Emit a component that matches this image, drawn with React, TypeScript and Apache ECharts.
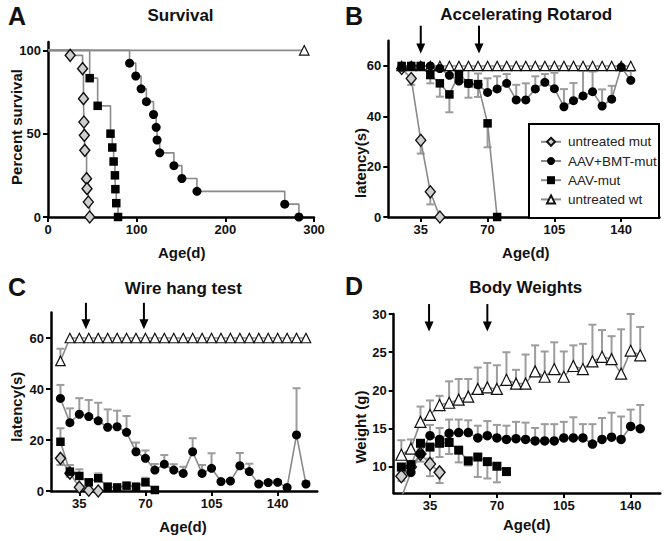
import React, { useEffect, useRef } from 'react';
import * as echarts from 'echarts';

// ---------- Panel A: Survival (Kaplan-Meier steps) ----------
const survUntDays = [0, 25, 39, 40, 40.5, 41, 41.5, 43.5, 44, 45.5, 47];
const survUnt = [100, 97, 89, 71, 57, 49, 40, 23, 17, 9, 0];
const survBmtDays = [0, 92, 99, 105, 111, 119, 122, 123, 126, 142, 151, 168, 267, 283];
const survBmt = [100, 92.3, 84.6, 76.9, 69.2, 61.5, 53.8, 46.2, 38.5, 30.8, 23.1, 15.4, 7.7, 0];
const survAavDays = [0, 47, 56, 70.5, 72.5, 74, 75.5, 76, 77, 79];
const survAav = [100, 83.3, 66.7, 50, 41.7, 33.3, 25, 16.7, 8.3, 0];
const survWtDays = [0, 289];
const survWt = [100, 100];

// ---------- Panel B: Accelerating Rotarod ----------
const rotaDays = [25, 30, 35, 40, 45, 50, 55, 60, 65, 70, 75, 80, 85, 90, 95, 100, 105, 110, 115, 120, 125, 130, 135, 140, 145];
const rotaWt = [60, 60, 60, 60, 60, 60, 60, 60, 60, 60, 60, 60, 60, 60, 60, 60, 60, 60, 60, 60, 60, 60, 60, 60, 60];
const rotaBmt = [59.5, 60, 60, 60, 59, 56.3, 54, 53, 52.5, 49.5, 50.9, 53.1, 46.5, 46.5, 50.9, 53.5, 51, 43.8, 46.2, 48.1, 49.8, 44.1, 46.8, 59.5, 54.3];
const rotaBmtErr = [0, 0, 0, 0, 1, 2, 3, 5.4, 4.5, 5.6, 5, 3.7, 6, 6.6, 5, 3.3, 6.3, 7, 7, 10, 8, 6.6, 5.3, 0, 3.7];
const rotaAavDays = [25, 30, 35, 40, 45, 50, 55, 60, 65, 70, 75];
const rotaAav = [60, 60, 60, 56.4, 53.1, 48.7, 56.8, 53.1, 52.8, 37.2, 0];
const rotaAavErr = [0, 0, 0, 3.3, 5.3, 7.1, 2, 5.7, 5.1, 9.5, 0];
const rotaUntDays = [25, 30, 35, 40, 45];
const rotaUnt = [59, 55, 30.5, 10, 0];
const rotaUntErr = [0, 2.5, 5.3, 5, 0];

// ---------- Panel C: Wire hang test ----------
const wireDays = [25, 30, 35, 40, 45, 50, 55, 60, 65, 70, 75, 80, 85, 90, 95, 100, 105, 110, 115, 120, 125, 130, 135, 140, 145, 150, 155];
const wireWt = [51, 60, 60, 60, 60, 60, 60, 60, 60, 60, 60, 60, 60, 60, 60, 60, 60, 60, 60, 60, 60, 60, 60, 60, 60, 60, 60];
const wireWtErr = [4.8, 0, 0, 0, 0, 0, 0, 0, 0, 0, 0, 0, 0, 0, 0, 0, 0, 0, 0, 0, 0, 0, 0, 0, 0, 0, 0];
const wireBmt = [36.3, 26.8, 30.1, 29.2, 27.5, 25, 25.2, 23, 15.4, 12.8, 8.2, 10.5, 8.2, 6.9, 15.4, 6.9, 8.9, 3.7, 3.9, 9.9, 7.6, 2.7, 3.3, 3.4, 1.4, 22, 2.7];
const wireBmtErr = [5.3, 5.6, 6.3, 6.5, 7.1, 7, 6.3, 6.4, 3.6, 3.1, 2.4, 3.6, 2.3, 2.6, 5.3, 3.3, 5.9, 0.6, 0.6, 5, 3.1, 0.8, 0.8, 0.8, 0.3, 18.3, 1.2];
const wireAavDays = [25, 30, 35, 40, 45, 50, 55, 60, 65, 70, 75];
const wireAav = [19.3, 7.6, 5.9, 3.4, 5, 1.7, 1.4, 2.1, 1.7, 3.4, 0.4];
const wireAavErr = [5.3, 2.6, 2.6, 1, 1.9, 0.5, 0.5, 0.5, 0.5, 1.8, 0];
const wireUntDays = [25, 30, 35, 40, 45];
const wireUnt = [12.8, 7, 1.5, 0.3, 0];
const wireUntErr = [2.6, 1.5, 0, 0, 0];

// ---------- Panel D: Body Weights ----------
const bwDays = [20, 25, 30, 35, 40, 45, 50, 55, 60, 65, 70, 75, 80, 85, 90, 95, 100, 105, 110, 115, 120, 125, 130, 135, 140, 145];
const bwWt = [11.6, 12.4, 15.9, 16.8, 18.1, 18.4, 18.8, 19.2, 20.2, 20.4, 20.2, 21.4, 20.9, 20.9, 22.5, 21.8, 22.8, 21.8, 23.2, 22.8, 23.8, 24.4, 24.1, 22.2, 25.2, 24.6];
const bwWtErr = [1.9, 1.2, 2, 1.9, 1.2, 2.8, 2.7, 2.3, 2.8, 3.2, 3.1, 3.6, 1.8, 3.8, 3.4, 3.3, 3.5, 3.3, 2.7, 3.3, 4.8, 3.5, 3.0, 5.8, 4.8, 3.7];
const bwBmt = [6.0, 9.3, 11.7, 14.1, 13.6, 14.4, 14.5, 14.5, 13.8, 14.1, 13.8, 13.6, 13.7, 13.6, 13.4, 13.4, 13.4, 13.8, 13.8, 13.8, 13.0, 13.6, 13.9, 13.6, 15.3, 15.0];
const bwBmtErr = [0, 1.5, 1.5, 1.4, 1.5, 1.8, 1.7, 1.6, 1.6, 1.9, 1.7, 1.8, 2.2, 2.2, 1.7, 2.2, 2.2, 2.1, 2.7, 1.8, 2.6, 2.8, 3.2, 3.0, 2.2, 3.1];
const bwAavDays = [20, 25, 30, 35, 40, 45, 50, 55, 60, 65, 70, 75];
const bwAav = [10.0, 10.3, 13.1, 12.6, 13.1, 13.2, 12.2, 10.8, 11.3, 10.7, 10.1, 9.4];
const bwAavErr = [0.5, 0.8, 1.5, 1.5, 1.8, 1.5, 1.6, 0.6, 2.6, 2.2, 2.1, 0];
const bwUntDays = [20, 25, 30, 35, 40];
const bwUnt = [8.8, 10.0, 11.7, 10.4, 9.3];
const bwUntErr = [0.6, 0.8, 1, 1.6, 1.4];

// ---------- Axis ticks ----------
const xTicksA = [0, 100, 200, 300];
const yTicksA = [0, 50, 100];
const xTicksBCD = [35, 70, 105, 140];
const yTicksBC = [0, 20, 40, 60];
const yTicksD = [10, 15, 20, 25, 30];

// ---------- Arrows (treatment times) ----------
const arrowDaysB = [35, 65.5];
const arrowSpanB = [76, 65];
const arrowDaysC = [38.5, 69.2];
const arrowSpanC = [73.8, 63.4];
const arrowDaysD = [34.5, 65];
const arrowSpanD = [31.3, 27.7];

const legendNames = ['untreated mut', 'AAV+BMT-mut', 'AAV-mut', 'untreated wt'];

const FONT = "'Liberation Sans', Arial, Helvetica, sans-serif";
const LINE_GRAY = '#8a8a8a';
const ERR_GRAY = '#9c9c9c';

const MARK: Record<string, any> = {
  unt: { symbol: 'diamond', symbolSize: [10, 12], itemStyle: { color: '#cfcfcf', borderColor: '#111', borderWidth: 1.4 } },
  bmt: { symbol: 'circle', symbolSize: 9, itemStyle: { color: '#000' } },
  aav: { symbol: 'rect', symbolSize: 8.5, itemStyle: { color: '#000' } },
  wt: { symbol: 'triangle', symbolSize: 9.5, itemStyle: { color: '#fff', borderColor: '#111', borderWidth: 1.2 } },
};
const MARK_D: Record<string, any> = {
  unt: { symbolSize: [11, 13] },
  bmt: { symbolSize: 9.5 },
  aav: { symbolSize: 9 },
  wt: { symbolSize: 11 },
};

function lineSeries(name: string, g: number, kind: string, xs: number[], ys: number[], extra: any = {}) {
  return {
    type: 'line',
    name,
    xAxisIndex: g,
    yAxisIndex: g,
    data: xs.map((x, i) => [x, ys[i]]),
    ...MARK[kind],
    showAllSymbol: true,
    lineStyle: { color: LINE_GRAY, width: 1.6 },
    z: 3,
    ...extra,
  };
}

function stepSeries(name: string, kind: string, xs: number[], ys: number[]) {
  return {
    type: 'line',
    name,
    xAxisIndex: 0,
    yAxisIndex: 0,
    step: 'end',
    data: xs.map((x, i) => (i === 0 ? { value: [x, ys[i]], symbol: 'none' } : [x, ys[i]])),
    ...MARK[kind],
    lineStyle: { color: LINE_GRAY, width: 1.6 },
    z: 3,
  };
}

function errSeries(g: number, xs: number[], ys: number[], errs: number[], dir: number) {
  return {
    type: 'custom',
    xAxisIndex: g,
    yAxisIndex: g,
    silent: true,
    z: 2,
    encode: { x: 0, y: 1 },
    data: xs.map((x, i) => [x, ys[i], errs[i] * dir]).filter((d) => d[2] !== 0),
    renderItem: (_p: any, api: any) => {
      const x = api.value(0);
      const y = api.value(1);
      const e = api.value(2);
      const p0 = api.coord([x, y]);
      const p1 = api.coord([x, y + e]);
      const st = { stroke: ERR_GRAY, lineWidth: 2 };
      return {
        type: 'group',
        children: [
          { type: 'line', shape: { x1: p0[0], y1: p0[1], x2: p1[0], y2: p1[1] }, style: st },
          { type: 'line', shape: { x1: p1[0] - 4, y1: p1[1], x2: p1[0] + 4, y2: p1[1] }, style: st },
        ],
      };
    },
  };
}

function xAxis(g: number, min: number, max: number, ticks: number[]) {
  return {
    type: 'value', gridIndex: g, min, max,
    axisLine: { show: true, onZero: false, lineStyle: { color: '#000', width: 2.5 } },
    axisTick: { show: true, length: 5, customValues: ticks, lineStyle: { color: '#000', width: 2 } },
    axisLabel: { customValues: ticks, margin: 6, color: '#111', fontSize: 13, fontWeight: 'bold', fontFamily: FONT },
    splitLine: { show: false },
  };
}
function yAxis(g: number, min: number, max: number, ticks: number[]) {
  return {
    type: 'value', gridIndex: g, min, max,
    axisLine: { show: true, onZero: false, lineStyle: { color: '#000', width: 2.5 } },
    axisTick: { show: true, length: 5, customValues: ticks, lineStyle: { color: '#000', width: 2 } },
    axisLabel: { customValues: ticks, margin: 7, color: '#111', fontSize: 13, fontWeight: 'bold', fontFamily: FONT },
    splitLine: { show: false },
  };
}

function txt(text: string, x: number, y: number, size: number, extra: any = {}) {
  return {
    type: 'text', x, y, z: 20,
    style: { text, fontSize: size, fontWeight: 'bold', fontFamily: FONT, fill: '#111', align: 'center', verticalAlign: 'middle' },
    ...extra,
  };
}
function letter(text: string, x: number, y: number) {
  return {
    type: 'text', x, y, z: 20,
    style: { text, fontSize: 25, fontWeight: 'bold', fontFamily: FONT, fill: '#111', align: 'left', verticalAlign: 'middle' },
  };
}

export default function App() {
  const ref = useRef<HTMLDivElement>(null);
  useEffect(() => {
    document.body.style.margin = '0';
    const chart = echarts.init(ref.current!, null, { renderer: 'svg' });
    const option: any = {
      animation: false,
      backgroundColor: '#fff',
      grid: [
        { left: 48, top: 42, width: 266, height: 175 },
        { left: 388.3, top: 40.8, width: 271.1, height: 176.2 },
        { left: 51, top: 312.5, width: 266.3, height: 178.5 },
        { left: 393.7, top: 314, width: 266.6, height: 179 },
      ],
      xAxis: [
        xAxis(0, 0, 300, xTicksA),
        xAxis(1, 18, 160, xTicksBCD),
        xAxis(2, 20, 161, xTicksBCD),
        xAxis(3, 16, 155.5, xTicksBCD),
      ],
      yAxis: [
        yAxis(0, 0, 105, yTicksA),
        yAxis(1, 0, 70, yTicksBC),
        yAxis(2, 0, 70, yTicksBC),
        yAxis(3, 6.6, 30, yTicksD),
      ],
      legend: {
        data: legendNames,
        orient: 'vertical',
        left: 540,
        top: 134.7,
        padding: 0,
        itemGap: 5,
        itemWidth: 20,
        itemHeight: 10,
        selectedMode: false,
        z: 10,
        textStyle: { fontSize: 13.5, lineHeight: 14.2, fontFamily: FONT, color: '#222', padding: [0, 0, 0, 2] },
      },
      series: [
        // A
        stepSeries('A wt', 'wt', survWtDays, survWt),
        stepSeries('A unt', 'unt', survUntDays, survUnt),
        stepSeries('A bmt', 'bmt', survBmtDays, survBmt),
        stepSeries('A aav', 'aav', survAavDays, survAav),
        // B
        lineSeries('untreated wt', 1, 'wt', rotaDays, rotaWt),
        lineSeries('untreated mut', 1, 'unt', rotaUntDays, rotaUnt),
        lineSeries('AAV+BMT-mut', 1, 'bmt', rotaDays, rotaBmt),
        lineSeries('AAV-mut', 1, 'aav', rotaAavDays, rotaAav),
        errSeries(1, rotaDays, rotaBmt, rotaBmtErr, 1),
        errSeries(1, rotaAavDays, rotaAav, rotaAavErr, -1),
        errSeries(1, rotaUntDays, rotaUnt, rotaUntErr, -1),
        // C
        lineSeries('C wt', 2, 'wt', wireDays, wireWt),
        lineSeries('C unt', 2, 'unt', wireUntDays, wireUnt),
        lineSeries('C bmt', 2, 'bmt', wireDays, wireBmt),
        lineSeries('C aav', 2, 'aav', wireAavDays, wireAav),
        errSeries(2, wireDays, wireWt, wireWtErr, 1),
        errSeries(2, wireDays, wireBmt, wireBmtErr, 1),
        errSeries(2, wireAavDays, wireAav, wireAavErr, 1),
        errSeries(2, wireUntDays, wireUnt, wireUntErr, -1),
        // D
        lineSeries('D wt', 3, 'wt', bwDays, bwWt, MARK_D.wt),
        lineSeries('D unt', 3, 'unt', bwUntDays, bwUnt, MARK_D.unt),
        lineSeries('D bmt', 3, 'bmt', bwDays, bwBmt, MARK_D.bmt),
        lineSeries('D aav', 3, 'aav', bwAavDays, bwAav, MARK_D.aav),
        errSeries(3, bwDays, bwWt, bwWtErr, 1),
        errSeries(3, bwDays, bwBmt, bwBmtErr, 1),
        errSeries(3, bwAavDays, bwAav, bwAavErr, -1),
        errSeries(3, bwUntDays, bwUnt, bwUntErr, -1),
      ],
    };
    chart.setOption(option);

    const arrows: any[] = [];
    const addArrows = (g: number, days: number[], span: number[]) => {
      days.forEach((d) => {
        const top = chart.convertToPixel({ gridIndex: g } as any, [d, span[0]]) as number[];
        const tip = chart.convertToPixel({ gridIndex: g } as any, [d, span[1]]) as number[];
        arrows.push({ type: 'line', z: 20, shape: { x1: top[0], y1: top[1], x2: tip[0], y2: tip[1] - 8 }, style: { stroke: '#000', lineWidth: 2 } });
        arrows.push({ type: 'polygon', z: 20, shape: { points: [[tip[0] - 4.5, tip[1] - 10], [tip[0] + 4.5, tip[1] - 10], [tip[0], tip[1]]] }, style: { fill: '#000' } });
      });
    };
    addArrows(1, arrowDaysB, arrowSpanB);
    addArrows(2, arrowDaysC, arrowSpanC);
    addArrows(3, arrowDaysD, arrowSpanD);

    const texts = [
      letter('A', 8, 16),
      letter('B', 345, 16),
      letter('C', 8, 287),
      letter('D', 345, 286),
      txt('Survival', 180.5, 15, 17),
      txt('Accelerating Rotarod', 526.3, 14, 17),
      txt('Wire hang test', 183.3, 288, 17),
      txt('Body Weights', 525.8, 287, 17),
      txt('Age(d)', 181.7, 252, 15),
      txt('Age(d)', 525.8, 252, 15),
      txt('Age(d)', 183, 526, 15),
      txt('Age(d)', 526.7, 524.5, 15),
      txt('Percent survival', 16, 127, 15, { rotation: Math.PI / 2 }),
      txt('latency(s)', 360, 163, 15, { rotation: Math.PI / 2 }),
      txt('latency(s)', 16.7, 406.7, 15, { rotation: Math.PI / 2 }),
      txt('Weight (g)', 360, 427, 15, { rotation: Math.PI / 2 }),
    ];
    const legendBox = {
      type: 'rect', z: 5,
      shape: { x: 529, y: 124, width: 130, height: 94 },
      style: { fill: '#fff', stroke: '#000', lineWidth: 2 },
    };
    chart.setOption({ graphic: { elements: [legendBox, ...arrows, ...texts] } });

    return () => chart.dispose();
  }, []);
  return <div ref={ref} style={{ width: 670, height: 541 }} />;
}
